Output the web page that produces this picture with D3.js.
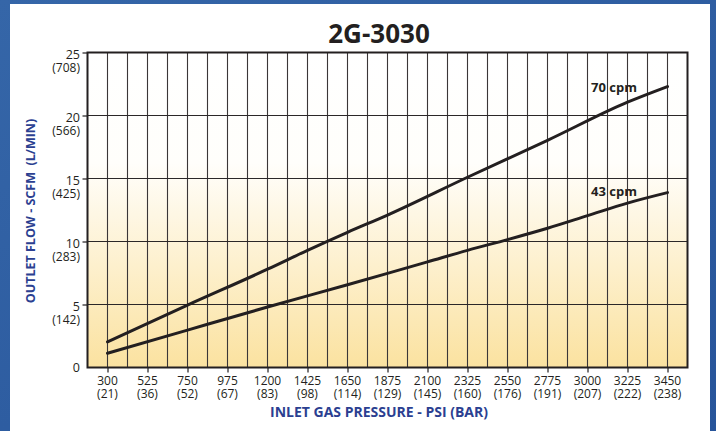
<!DOCTYPE html>
<html lang="en">
<head>
<meta charset="utf-8">
<title>2G-3030</title>
<script src="https://cdnjs.cloudflare.com/ajax/libs/d3/7.8.5/d3.min.js"></script>
<style>
  html, body { margin: 0; padding: 0; background: #2d5c9e; }
  svg { display: block; }
  text { font-family: "Open Sans", "Noto Sans", sans-serif; fill: #231f20; }
</style>
</head>
<body>
<div id="chart"></div>
<script>
// x axis: inlet pressure (psi) with bar in brackets
var psiTicks = [300, 525, 750, 975, 1200, 1425, 1650, 1875, 2100, 2325, 2550, 2775, 3000, 3225, 3450];
var barLabels = [21, 36, 52, 67, 83, 98, 114, 129, 145, 160, 176, 191, 207, 222, 238];
// y axis: scfm with l/min in brackets
var scfmTicks = [0, 5, 10, 15, 20, 25];
var lpmLabels = [null, 142, 283, 425, 566, 708];

// series
var psi70 = [300, 750, 1200, 1425, 1650, 1875, 2325, 2775, 3225, 3450];
var flow70 = [2.04, 4.95, 7.8, 9.3, 10.73, 12.1, 15.1, 18.03, 21.06, 22.3];
var psi43 = [300, 750, 1200, 1650, 1875, 2100, 2325, 2550, 2775, 3000, 3225, 3450];
var flow43 = [1.13, 2.97, 4.8, 6.57, 7.47, 8.38, 9.3, 10.15, 11.05, 12.05, 13.05, 13.88];
var seriesNames = ["70 cpm", "43 cpm"];

var width = 716, height = 431;
// note: "top" is taken by window.top, so use plot* names
var plotL = 87.5, plotR = 687.5, plotT = 52.5, plotB = 367.5;

var svg = d3.select("#chart").append("svg")
  .attr("width", width)
  .attr("height", height);

// blue frame + white panel
var defs = svg.append("defs");
var bg = defs.append("linearGradient").attr("id", "frame")
  .attr("x1", 0).attr("y1", 0).attr("x2", 1).attr("y2", 1);
bg.append("stop").attr("offset", 0).attr("stop-color", "#3566a8");
bg.append("stop").attr("offset", 1).attr("stop-color", "#27549a");
svg.append("rect").attr("width", width).attr("height", height).attr("fill", "url(#frame)");
svg.append("rect").attr("x", 10).attr("y", 4).attr("width", 700).attr("height", height)
  .attr("fill", "#fff");

var fill = defs.append("linearGradient").attr("id", "plotfill")
  .attr("x1", 0).attr("y1", 0).attr("x2", 0).attr("y2", 1);
fill.append("stop").attr("offset", 0).attr("stop-color", "#ffffff");
fill.append("stop").attr("offset", 0.35).attr("stop-color", "#fffefb");
fill.append("stop").attr("offset", 1).attr("stop-color", "#fbe2a0");

var x = d3.scaleLinear().domain([187.5, 3562.5]).range([plotL, plotR]);
var y = d3.scaleLinear().domain([0, 25]).range([plotB, plotT]);

svg.append("rect")
  .attr("x", plotL).attr("y", plotT)
  .attr("width", plotR - plotL).attr("height", plotB - plotT)
  .attr("fill", "url(#plotfill)");

// grid: vertical line every 112.5 psi
var vgrid = d3.range(300, 3451, 112.5);
svg.append("g").selectAll("line")
  .data(vgrid)
  .enter().append("line")
  .attr("x1", d => x(d)).attr("x2", d => x(d))
  .attr("y1", plotT).attr("y2", plotB)
  .attr("stroke", "#3a3637").attr("stroke-width", 1.1);

svg.append("g").selectAll("line")
  .data(scfmTicks.slice(1, -1))
  .enter().append("line")
  .attr("x1", plotL).attr("x2", plotR)
  .attr("y1", d => y(d)).attr("y2", d => y(d))
  .attr("stroke", "#2b2728").attr("stroke-width", 1.1);

// axes (tick marks only, labels drawn below)
var xAxis = svg.append("g")
  .attr("transform", "translate(0," + plotB + ")")
  .call(d3.axisBottom(x).tickValues(psiTicks).tickSize(5).tickFormat(""));
var yAxis = svg.append("g")
  .attr("transform", "translate(" + plotL + ",0)")
  .call(d3.axisLeft(y).tickValues(scfmTicks.slice(1)).tickSize(5).tickFormat(""));
xAxis.select(".domain").remove();
yAxis.select(".domain").remove();
svg.selectAll(".tick line").attr("stroke", "#231f20").attr("stroke-width", 1.2);

// tick labels, two lines each
psiTicks.forEach(function(p, i) {
  svg.append("text").attr("x", x(p)).attr("y", 385)
    .attr("text-anchor", "middle").style("font-size", "12px").text(p);
  svg.append("text").attr("x", x(p)).attr("y", 397.5)
    .attr("text-anchor", "middle").style("font-size", "12px").text("(" + barLabels[i] + ")");
});
scfmTicks.forEach(function(v, i) {
  if (v === 0) {
    svg.append("text").attr("x", 80).attr("y", y(0) + 4.5)
      .attr("text-anchor", "end").style("font-size", "12.5px").text("0");
    return;
  }
  svg.append("text").attr("x", 80).attr("y", y(v) + 6)
    .attr("text-anchor", "end").style("font-size", "12.5px").text(v);
  svg.append("text").attr("x", 80).attr("y", y(v) + 19.5)
    .attr("text-anchor", "end").style("font-size", "12px").text("(" + lpmLabels[i] + ")");
});

// plot border
svg.append("rect")
  .attr("x", plotL).attr("y", plotT)
  .attr("width", plotR - plotL).attr("height", plotB - plotT)
  .attr("fill", "none").attr("stroke", "#231f20").attr("stroke-width", 2);

// series lines
var line = d3.line()
  .x(d => x(d[0]))
  .y(d => y(d[1]))
  .curve(d3.curveMonotoneX);
var series = [d3.zip(psi70, flow70), d3.zip(psi43, flow43)];
svg.append("g").selectAll("path")
  .data(series)
  .enter().append("path")
  .attr("d", line)
  .attr("fill", "none")
  .attr("stroke", "#231f20")
  .attr("stroke-width", 3)
  .attr("stroke-linecap", "round");

svg.append("text").attr("x", 637).attr("y", 92)
  .attr("text-anchor", "end").style("font-size", "13px").style("font-weight", "bold")
  .text(seriesNames[0]);
svg.append("text").attr("x", 637).attr("y", 196)
  .attr("text-anchor", "end").style("font-size", "13px").style("font-weight", "bold")
  .text(seriesNames[1]);

// titles
svg.append("text").attr("x", 379).attr("y", 43)
  .attr("text-anchor", "middle")
  .style("font-size", "26px").style("font-weight", "bold")
  .text("2G-3030");

svg.append("text").attr("x", 379).attr("y", 417)
  .attr("text-anchor", "middle")
  .style("font-size", "14px").style("font-weight", "bold").style("fill", "#2b3f91")
  .text("INLET GAS PRESSURE - PSI (BAR)");

svg.append("text")
  .attr("transform", "translate(35," + ((plotT + plotB) / 2 + 1) + ") rotate(-90)")
  .attr("text-anchor", "middle")
  .style("font-size", "12.5px").style("font-weight", "bold").style("fill", "#2b3f91")
  .style("white-space", "pre")
  .text("OUTLET FLOW - SCFM  (L/MIN)");
</script>
</body>
</html>
